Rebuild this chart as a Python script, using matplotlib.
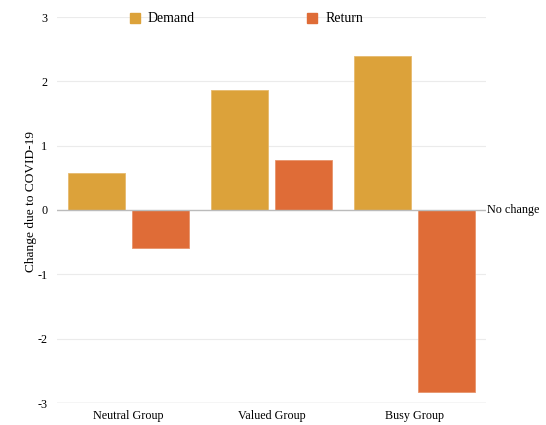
import matplotlib
matplotlib.use("Agg")
import matplotlib.pyplot as plt
from matplotlib.patches import Patch
import numpy as np

categories = ["Neutral Group", "Valued Group", "Busy Group"]
demand = [0.58, 1.86, 2.39]
returns = [-0.59, 0.77, -2.83]
yticks = [-3, -2, -1, 0, 1, 2, 3]

plt.rcParams['font.family'] = ['Liberation Serif', 'DejaVu Serif']
FS = 8.7

fig = plt.figure(figsize=(5.46, 4.25), dpi=100)
L, R, T, B = 57, 486, 17, 403
ax = fig.add_axes([L/546, (425-B)/425, (R-L)/546, (B-T)/425])

x = np.arange(len(categories))
w = 0.40
off = 0.221
c_d = "#DCA23A"
c_r = "#DF6C37"
ax.bar(x - off, demand, w, color=c_d, edgecolor="#E6BA6E", linewidth=0.6, zorder=3)
ax.bar(x + off, returns, w, color=c_r, edgecolor="#E8946C", linewidth=0.6, zorder=3)

ax.set_xlim(-0.5, 2.5)
ax.set_ylim(-3, 3)
ax.set_yticks(yticks)
ax.set_yticklabels([str(v) for v in yticks], fontsize=FS)
ax.set_xticks(x)
ax.set_xticklabels(categories, fontsize=FS)
ax.tick_params(axis='y', length=0, pad=7)
ax.tick_params(axis='x', length=0, pad=5)
for s in ax.spines.values():
    s.set_visible(False)
for v in yticks:
    if v == 0:
        ax.axhline(v, color="#BBBBBB", linewidth=1.0, zorder=4)
    elif v == -3:
        ax.axhline(v, color="#CCCCCC", linewidth=1.0, zorder=2)
    else:
        ax.axhline(v, color="#EBEBEB", linewidth=0.8, zorder=1)

ax.annotate("No change", xy=(1.0, 0), xycoords=("axes fraction", "data"),
            xytext=(1, 0), textcoords="offset points", fontsize=FS, va="center", ha="left")
ax.set_ylabel("Change due to COVID-19", fontsize=9.6)
ax.yaxis.set_label_coords((37 - L) / (R - L), (B - 201) / (B - T))

handles = [Patch(facecolor=c_d, edgecolor=c_d), Patch(facecolor=c_r, edgecolor=c_r)]
fig.legend(handles, ["Demand", "Return"], loc="upper left", bbox_to_anchor=(117/546, 1 - 0/425), ncol=2,
           frameon=False, fontsize=10, handlelength=0.72, handleheight=0.72,
           columnspacing=8.1, handletextpad=0.6)

fig.savefig("out.png", dpi=100)
